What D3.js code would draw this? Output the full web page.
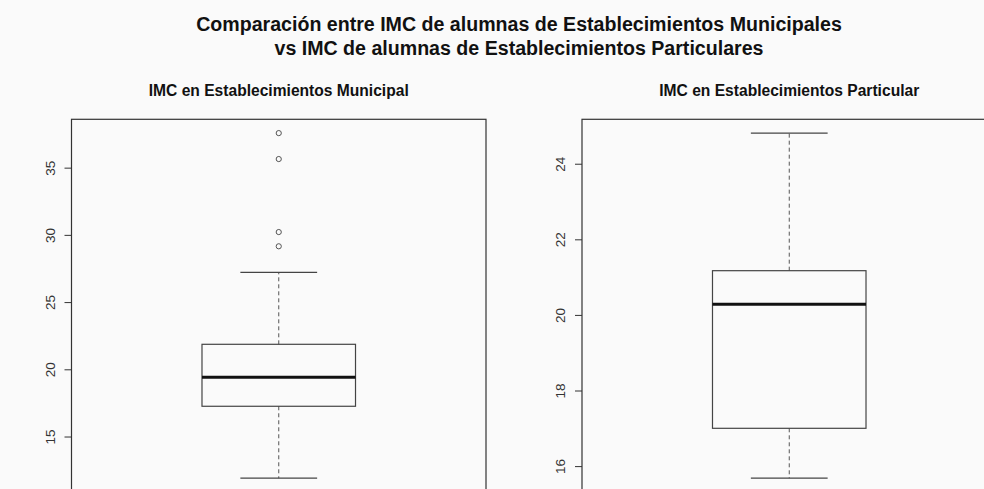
<!DOCTYPE html>
<html lang="es">
<head>
<meta charset="UTF-8">
<title>IMC boxplots</title>
<style>
  body { margin: 0; background: #fafafa; }
  svg { display: block; }
  text { font-family: "Liberation Sans", Arial, sans-serif; fill: #111; }
</style>
</head>
<body>
<svg id="chart"></svg>
<script src="https://cdn.jsdelivr.net/npm/d3@7"></script>
<script>
// values
var panelTitles = ["IMC en Establecimientos Municipal", "IMC en Establecimientos Particular"];
var whiskerLow  = [11.90, 15.68];
var q1          = [17.25, 17.00];
var median      = [19.41, 20.28];
var q3          = [21.86, 21.17];
var whiskerHigh = [27.21, 24.81];
var outliers    = [[29.15, 30.21, 35.64, 37.57], []];
var tickValues  = [[15, 20, 25, 30, 35], [16, 18, 20, 22, 24]];

var W = 984, H = 489;
// the original figure is wider than the window (right side cut off),
// so the main title is centred to the right of the window middle
var titleX = 519;
var svg = d3.select("#chart").attr("width", W).attr("height", H);

svg.append("text").attr("x", titleX).attr("y", 31).attr("text-anchor", "middle")
  .style("font-size", "19.6px").style("font-weight", "bold")
  .text("Comparación entre IMC de alumnas de Establecimientos Municipales");
svg.append("text").attr("x", titleX).attr("y", 55).attr("text-anchor", "middle")
  .style("font-size", "19.6px").style("font-weight", "bold")
  .text("vs IMC de alumnas de Establecimientos Particulares");

// plot regions (R style, 4% axis expansion)
var plotLeft = [71.5, 582], plotW = 414.5, plotTop = 119.3, plotBottom = 492;

panelTitles.forEach(function (title, i) {
  var lo = Math.min(whiskerLow[i], d3.min(outliers[i]) || Infinity);
  var hi = Math.max(whiskerHigh[i], d3.max(outliers[i]) || -Infinity);
  var pad = (hi - lo) * 0.04;

  var y = d3.scaleLinear().domain([lo - pad, hi + pad]).range([plotBottom, plotTop]);
  var x = d3.scaleLinear().domain([0.46, 1.54]).range([plotLeft[i], plotLeft[i] + plotW]);
  var g = svg.append("g");

  g.append("text").attr("x", x(1)).attr("y", 96).attr("text-anchor", "middle")
    .style("font-size", "15.6px").style("font-weight", "bold").text(title);

  // whiskers
  g.append("line").attr("x1", x(1)).attr("x2", x(1))
    .attr("y1", y(q3[i])).attr("y2", y(whiskerHigh[i]))
    .attr("stroke", "#555").attr("stroke-dasharray", "4,3");
  g.append("line").attr("x1", x(1)).attr("x2", x(1))
    .attr("y1", y(q1[i])).attr("y2", y(whiskerLow[i]))
    .attr("stroke", "#555").attr("stroke-dasharray", "4,3");
  [whiskerHigh[i], whiskerLow[i]].forEach(function (v) {
    g.append("line").attr("x1", x(0.9)).attr("x2", x(1.1))
      .attr("y1", y(v)).attr("y2", y(v)).attr("stroke", "#444").attr("stroke-width", 1.2);
  });

  // box
  g.append("rect").attr("x", x(0.8)).attr("width", x(1.2) - x(0.8))
    .attr("y", y(q3[i])).attr("height", y(q1[i]) - y(q3[i]))
    .attr("fill", "none").attr("stroke", "#444").attr("stroke-width", 1.2);
  g.append("line").attr("x1", x(0.8)).attr("x2", x(1.2))
    .attr("y1", y(median[i])).attr("y2", y(median[i]))
    .attr("stroke", "#111").attr("stroke-width", 3);

  // outliers
  g.selectAll("circle").data(outliers[i]).enter().append("circle")
    .attr("cx", x(1)).attr("cy", function (d) { return y(d); }).attr("r", 2.6)
    .attr("fill", "none").attr("stroke", "#555").attr("stroke-width", 1);

  // frame
  g.append("rect").attr("x", plotLeft[i]).attr("y", plotTop)
    .attr("width", plotW).attr("height", plotBottom - plotTop)
    .attr("fill", "none").attr("stroke", "#333").attr("stroke-width", 1.2);

  // y axis
  var ax = g.append("g").attr("transform", "translate(" + plotLeft[i] + ",0)")
    .call(d3.axisLeft(y).tickValues(tickValues[i]).tickSize(7).tickFormat(d3.format("d")));
  ax.select(".domain").remove();
  ax.selectAll(".tick line").attr("stroke", "#333");
  ax.selectAll(".tick text")
    .attr("x", null).attr("y", null).attr("dy", null)
    .attr("text-anchor", "middle")
    .attr("transform", "translate(-17,0) rotate(-90)")
    .style("font-size", "13.5px").style("fill", "#333")
    .style("font-family", "'Liberation Sans', Arial, sans-serif");
});
</script>
</body>
</html>
